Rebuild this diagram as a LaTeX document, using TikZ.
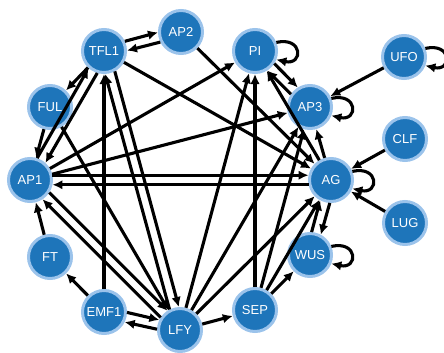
\documentclass[tikz,border=0pt]{standalone}
\usepackage{fontspec}
\setmainfont{Liberation Sans}
\usetikzlibrary{arrows.meta,calc}
\definecolor{genefill}{RGB}{30,117,186}
\definecolor{genering}{RGB}{155,195,235}
\tikzset{
  gene/.style={circle, fill=genefill, draw=genering, line width=3pt,
    minimum size=43pt, inner sep=0pt, text=white,
    font=\fontsize{13}{15}\selectfont},
  edge/.style={draw=black, line width=3.1pt, -{Latex[length=10pt,width=9.5pt]}},
}
% two parallel arrows between a pair of genes, one in each direction
\newcommand\biedge[2]{%
  \draw[edge] let \p1=($(#2)-(#1)$), \n1={atan2(\y1,\x1)+12}, \n2={atan2(\y1,\x1)+168}
    in (#1.\n1) -- (#2.\n2);
  \draw[edge] let \p1=($(#1)-(#2)$), \n1={atan2(\y1,\x1)+12}, \n2={atan2(\y1,\x1)+168}
    in (#2.\n1) -- (#1.\n2);
}
% self regulation loop on the right of a gene
\newcommand\selfloop[1]{%
  \draw[edge] (#1.22) .. controls +(27,-6) and +(27,6) .. (#1.-22);
}
\begin{document}
\begin{tikzpicture}[x=1pt,y=-1pt]
\useasboundingbox (0,0) rectangle (444,353);

% genes
\node[gene] (TFL1) at (104,51)  {TFL1};
\node[gene] (AP2)  at (181,32)  {AP2};
\node[gene] (PI)   at (255,51)  {PI};
\node[gene] (UFO)  at (404,57)  {UFO};
\node[gene] (FUL)  at (50,107)  {FUL};
\node[gene] (AP3)  at (310,107) {AP3};
\node[gene] (CLF)  at (405,139) {CLF};
\node[gene] (AP1)  at (30,180)  {AP1};
\node[gene] (AG)   at (331,180) {AG};
\node[gene] (LUG)  at (405,223) {LUG};
\node[gene] (FT)   at (50,257)  {FT};
\node[gene] (WUS)  at (310,255) {WUS};
\node[gene] (EMF1) at (104,312) {EMF1};
\node[gene] (LFY)  at (180,330) {LFY};
\node[gene] (SEP)  at (255,310) {SEP};

% mutual regulation
\biedge{TFL1}{AP2}
\biedge{AP1}{TFL1}
\biedge{TFL1}{LFY}
\biedge{AP1}{LFY}
\biedge{EMF1}{LFY}
\biedge{AP1}{AG}
\biedge{PI}{AP3}
\biedge{AG}{WUS}

% one-way regulation
\draw[edge] (AP2) -- (AG);
\draw[edge] (TFL1) -- (AG);
\draw[edge] (TFL1) -- (FUL);
\draw[edge] (FUL) -- (AP1);
\draw[edge] (EMF1) -- (TFL1);
\draw[edge] (FUL) -- (LFY);
\draw[edge] (FT) -- (AP1);
\draw[edge] (EMF1) -- (FT);
\draw[edge] (LFY) -- (SEP);
\draw[edge] (SEP) -- (WUS);
\draw[edge] (SEP) -- (PI);
\draw[edge] (SEP) -- (AP3);
\draw[edge] (SEP) -- (AG);
\draw[edge] (LUG) -- (AG);
\draw[edge] (CLF) -- (AG);
\draw[edge] (UFO) -- (AP3);
\draw[edge] (AG) -- (AP3);
\draw[edge] (AG) -- (PI);
\draw[edge] (AP1) -- (PI);
\draw[edge] (AP1) -- (AP3);
\draw[edge] (LFY) -- (PI);
\draw[edge] (LFY) -- (AP3);
\draw[edge] (LFY) -- (AG);

% self regulation
\selfloop{PI}
\selfloop{UFO}
\selfloop{AP3}
\selfloop{AG}
\selfloop{WUS}
\end{tikzpicture}
\end{document}
